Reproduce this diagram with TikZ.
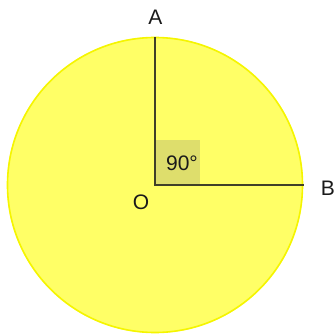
\documentclass[tikz,border=0pt]{standalone}
\usepackage{fontspec}
\setmainfont{Liberation Sans}
\definecolor{circfill}{HTML}{FFFF66}
\definecolor{circedge}{HTML}{F5F500}
\definecolor{angfill}{HTML}{DEDE6C}
\definecolor{seg}{HTML}{404028}
\definecolor{lbl}{HTML}{1A1A1A}
\begin{document}
\begin{tikzpicture}[x=1pt,y=1pt,
  lab/.style={text=lbl,font=\fontsize{21}{21}\selectfont,inner sep=0pt},
  segline/.style={draw=seg,line width=2.2pt}]
\useasboundingbox (0,0) rectangle (335,333);
\coordinate (O) at (155,148);
\coordinate (A) at (155,296);
\coordinate (B) at (304,148);
\fill[circfill] (O) circle (148);
\draw[circedge,line width=1.6pt] (O) circle (147.5);
\fill[angfill] (O) rectangle ++(45,45);
\draw[segline] (A) -- (O) -- (B);
\node[lab] (lA) at (155.5,316) {A};
\node[lab] (lB) at (328,145) {B};
\node[lab] (lO) at (141,131) {O};
\node[lab] (l90) at (182,170) {90°};
\end{tikzpicture}
\end{document}
